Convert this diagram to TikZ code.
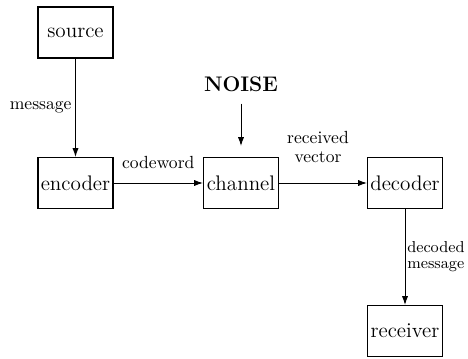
\documentclass[tikz,border=0pt]{standalone}
\usetikzlibrary{arrows.meta}
\begin{document}
\begin{tikzpicture}[
    block/.style={draw, line width=0.6pt, minimum width=1.5cm, minimum height=1.02cm,
                  inner sep=1pt, font=\large},
    flow/.style={line width=0.55pt, -{Latex[length=5pt, width=3.5pt]}},
    lbl/.style={font=\normalsize, inner sep=2pt}]
  \useasboundingbox (0, 0) rectangle (9.36, -7.16);

  % ---- ブロック ----
  \node[block] (source)   at (1.51, -0.65) {source};
  \node[block] (encoder)  at (1.51, -3.66) {encoder};
  \node[block] (channel)  at (4.82, -3.66) {channel};
  \node[block] (decoder)  at (8.10, -3.66) {decoder};
  \node[block] (receiver) at (8.10, -6.62) {receiver};

  % ---- NOISE ----
  \node[font=\large\bfseries] (noise) at (4.82, -1.68) {NOISE};
  \coordinate (noiseend) at (4.82, -2.92);

  % ---- 矢印とラベル ----
  \draw[flow] (source) -- node[lbl, left] {message} (encoder);
  \draw[flow] (encoder) -- node[lbl, above=0.2cm] {codeword} (channel);
  \draw[flow, shorten <=0.12cm] (noise) -- (noiseend);
  \draw[flow] (channel) -- node[lbl, above=0.32cm, align=center, xshift=-0.1cm]
    {received\\[-1pt] vector} (decoder);
  \draw[flow] (decoder) -- node[lbl, font=\small, inner sep=1pt, right, align=left]
    {decoded\\[-2pt] message} (receiver);
\end{tikzpicture}
\end{document}
